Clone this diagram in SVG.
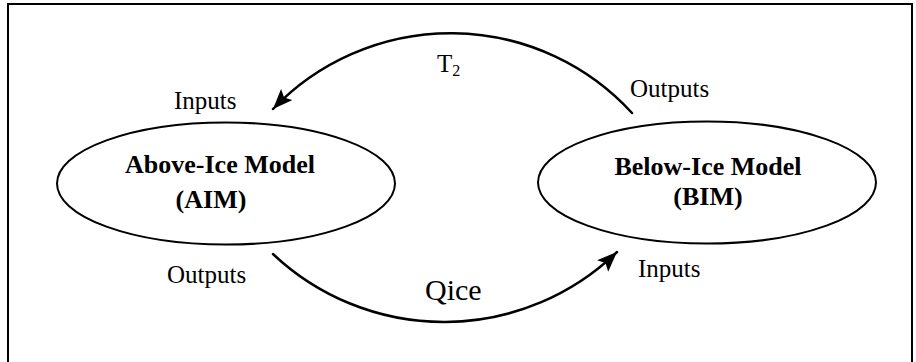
<svg xmlns="http://www.w3.org/2000/svg" width="916" height="362" viewBox="0 0 916 362">
<style>
.node{fill:none;stroke:#000;stroke-width:2}
.title{font-family:"Liberation Serif",serif;font-weight:bold;font-size:26px;fill:#000;text-anchor:middle}
.lbl{font-family:"Liberation Serif",serif;font-size:25px;fill:#000}
.big{font-size:30px}
.conn{fill:none;stroke:#000;stroke-width:2.5;stroke-linecap:round}
</style>
<defs>
<marker id="arrow" markerUnits="userSpaceOnUse" markerWidth="24" markerHeight="18" refX="20" refY="8" orient="auto">
<path d="M0,0 L20,8 L0,16 L4,8 z" fill="#000"/>
</marker>
</defs>
<rect x="8" y="4" width="904" height="370" fill="none" stroke="#000" stroke-width="2"/>
<g id="aim">
<ellipse class="node" cx="226" cy="183.5" rx="169" ry="61"/>
<text class="title" x="220" y="173">Above-Ice Model</text>
<text class="title" x="211" y="208">(AIM)</text>
</g>
<g id="bim">
<ellipse class="node" cx="707" cy="182.5" rx="169" ry="61"/>
<text class="title" x="708" y="175">Below-Ice Model</text>
<text class="title" x="708" y="205">(BIM)</text>
</g>
<g id="connectors">
<path class="conn" d="M632,113 A246,246 0 0 0 273,109" marker-end="url(#arrow)"/>
<path class="conn" d="M273,254 A249,249 0 0 0 617,252" marker-end="url(#arrow)"/>
</g>
<g id="labels">
<text class="lbl" x="174" y="109">Inputs</text>
<text class="lbl" x="630" y="97">Outputs</text>
<text class="lbl" x="167" y="283">Outputs</text>
<text class="lbl" x="638" y="277">Inputs</text>
<text class="lbl" x="437" y="72">T<tspan font-size="16" dy="4">2</tspan></text>
<text class="lbl big" x="425" y="300">Qice</text>
</g>
</svg>
